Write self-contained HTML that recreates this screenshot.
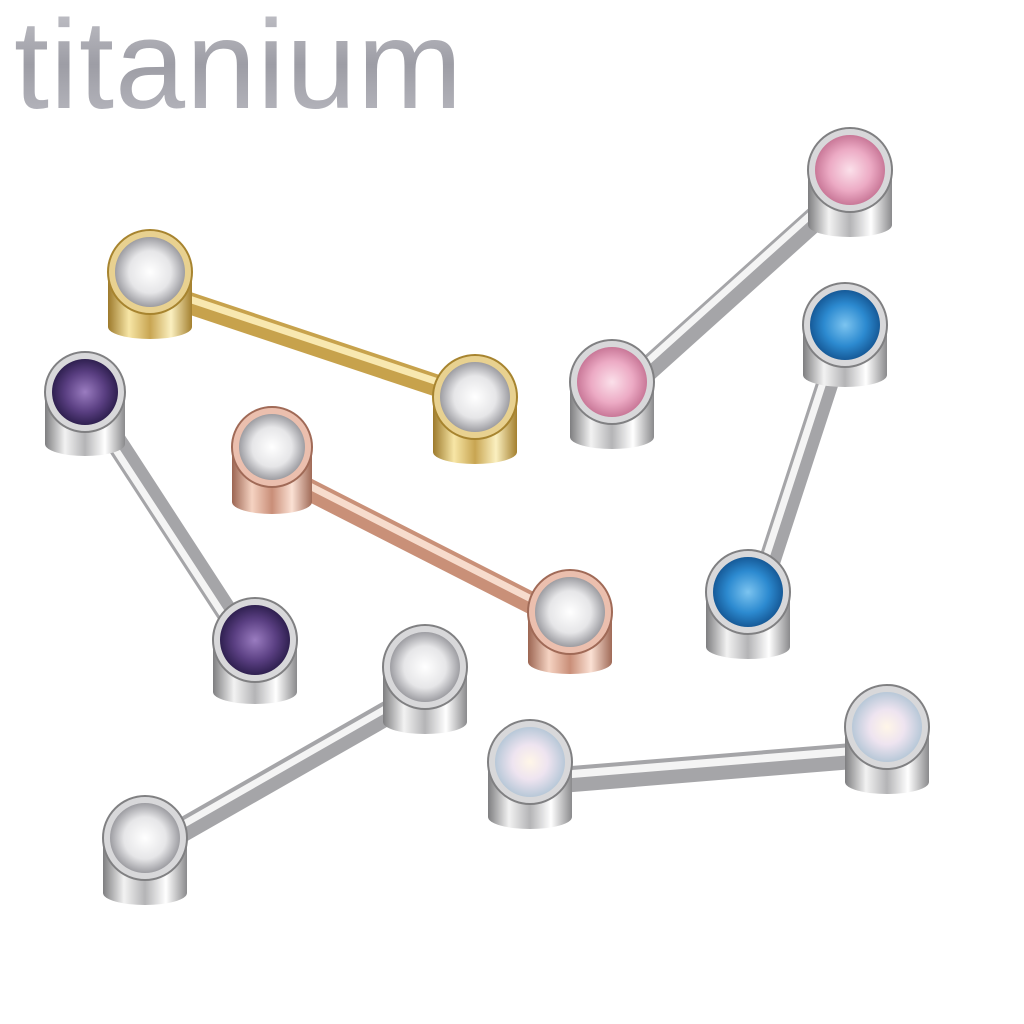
<!DOCTYPE html>
<html><head><meta charset="utf-8"><style>
html,body{margin:0;padding:0;background:#fff;}
svg{display:block;}
</style></head><body>
<svg width="1024" height="1024" viewBox="0 0 1024 1024" xmlns="http://www.w3.org/2000/svg">
<defs>
<linearGradient id="logo" x1="0" y1="0" x2="0" y2="1">
<stop offset="0" stop-color="#c9c9cf"/><stop offset="0.5" stop-color="#9d9da5"/><stop offset="1" stop-color="#bdbdc4"/></linearGradient>
<linearGradient id="sil" x1="0" y1="0" x2="1" y2="0">
<stop offset="0" stop-color="#7e7e80"/><stop offset="0.25" stop-color="#f2f2f2"/><stop offset="0.5" stop-color="#b4b4b6"/><stop offset="0.75" stop-color="#ffffff"/><stop offset="1" stop-color="#8a8a8c"/></linearGradient>
<linearGradient id="gold" x1="0" y1="0" x2="1" y2="0">
<stop offset="0" stop-color="#9d7a2c"/><stop offset="0.25" stop-color="#f7e6a6"/><stop offset="0.5" stop-color="#c8a552"/><stop offset="0.75" stop-color="#fbf0c0"/><stop offset="1" stop-color="#a4802f"/></linearGradient>
<linearGradient id="rose" x1="0" y1="0" x2="1" y2="0">
<stop offset="0" stop-color="#9c6552"/><stop offset="0.25" stop-color="#f5d3c2"/><stop offset="0.5" stop-color="#c98e78"/><stop offset="0.75" stop-color="#fbe1d4"/><stop offset="1" stop-color="#a06a57"/></linearGradient>
<radialGradient id="gClear"><stop offset="0" stop-color="#ffffff"/><stop offset="0.6" stop-color="#e6e6e8"/><stop offset="1" stop-color="#9d9da2"/></radialGradient>
<radialGradient id="gPurple"><stop offset="0" stop-color="#9a7cc0"/><stop offset="0.6" stop-color="#5a3f82"/><stop offset="1" stop-color="#2f2050"/></radialGradient>
<radialGradient id="gPink"><stop offset="0" stop-color="#fbe0ea"/><stop offset="0.6" stop-color="#ecaac4"/><stop offset="1" stop-color="#c97898"/></radialGradient>
<radialGradient id="gBlue"><stop offset="0" stop-color="#7cc4f0"/><stop offset="0.6" stop-color="#2c8ad0"/><stop offset="1" stop-color="#165a98"/></radialGradient>
<radialGradient id="gAB"><stop offset="0" stop-color="#fff6e8"/><stop offset="0.5" stop-color="#eee4f0"/><stop offset="1" stop-color="#b8c8d8"/></radialGradient>
</defs>

<text x="14" y="108" font-family="Liberation Sans, sans-serif" font-size="126" fill="url(#logo)" letter-spacing="1">titanium</text>

<!-- bars -->
<g stroke-linecap="round">
<line x1="180" y1="300" x2="450" y2="390" stroke="#c7a24c" stroke-width="22"/>
<line x1="180" y1="296" x2="450" y2="386" stroke="#f8e8b0" stroke-width="7"/>
<line x1="290" y1="480" x2="545" y2="610" stroke="#c99078" stroke-width="22"/>
<line x1="290" y1="476" x2="545" y2="606" stroke="#f7dccd" stroke-width="7"/>
<line x1="105" y1="425" x2="235" y2="625" stroke="#a5a5a8" stroke-width="22"/>
<line x1="101" y1="427" x2="231" y2="627" stroke="#f4f4f4" stroke-width="7"/>
<line x1="830" y1="205" x2="630" y2="385" stroke="#a5a5a8" stroke-width="24"/>
<line x1="826" y1="201" x2="626" y2="381" stroke="#f4f4f4" stroke-width="7"/>
<line x1="835" y1="360" x2="760" y2="590" stroke="#a5a5a8" stroke-width="22"/>
<line x1="831" y1="358" x2="756" y2="588" stroke="#f4f4f4" stroke-width="7"/>
<line x1="410" y1="700" x2="165" y2="840" stroke="#a5a5a8" stroke-width="24"/>
<line x1="408" y1="696" x2="163" y2="836" stroke="#f4f4f4" stroke-width="7"/>
<line x1="560" y1="780" x2="865" y2="755" stroke="#a5a5a8" stroke-width="26"/>
<line x1="560" y1="775" x2="865" y2="750" stroke="#f4f4f4" stroke-width="8"/>
</g>

<!-- bezel: body then rim then gem -->
<g>
<!-- gold -->
<g transform="translate(150,272)"><path d="M-42,0 L-42,55 A42,12 0 0 0 42,55 L42,0 Z" fill="url(#gold)"/><circle r="42" fill="#e8d190" stroke="#a7842f" stroke-width="2"/><circle r="35" fill="url(#gClear)"/></g>
<g transform="translate(475,397)"><path d="M-42,0 L-42,55 A42,12 0 0 0 42,55 L42,0 Z" fill="url(#gold)"/><circle r="42" fill="#e8d190" stroke="#a7842f" stroke-width="2"/><circle r="35" fill="url(#gClear)"/></g>
<!-- rose -->
<g transform="translate(272,447)"><path d="M-40,0 L-40,55 A40,12 0 0 0 40,55 L40,0 Z" fill="url(#rose)"/><circle r="40" fill="#ebbfae" stroke="#a06a57" stroke-width="2"/><circle r="33" fill="url(#gClear)"/></g>
<g transform="translate(570,612)"><path d="M-42,0 L-42,50 A42,12 0 0 0 42,50 L42,0 Z" fill="url(#rose)"/><circle r="42" fill="#ebbfae" stroke="#a06a57" stroke-width="2"/><circle r="35" fill="url(#gClear)"/></g>
<!-- purple -->
<g transform="translate(85,392)"><path d="M-40,0 L-40,52 A40,12 0 0 0 40,52 L40,0 Z" fill="url(#sil)"/><circle r="40" fill="#d8d8da" stroke="#808082" stroke-width="2"/><circle r="33" fill="url(#gPurple)"/></g>
<g transform="translate(255,640)"><path d="M-42,0 L-42,52 A42,12 0 0 0 42,52 L42,0 Z" fill="url(#sil)"/><circle r="42" fill="#d8d8da" stroke="#808082" stroke-width="2"/><circle r="35" fill="url(#gPurple)"/></g>
<!-- pink -->
<g transform="translate(850,170)"><path d="M-42,0 L-42,55 A42,12 0 0 0 42,55 L42,0 Z" fill="url(#sil)"/><circle r="42" fill="#d8d8da" stroke="#808082" stroke-width="2"/><circle r="35" fill="url(#gPink)"/></g>
<g transform="translate(612,382)"><path d="M-42,0 L-42,55 A42,12 0 0 0 42,55 L42,0 Z" fill="url(#sil)"/><circle r="42" fill="#d8d8da" stroke="#808082" stroke-width="2"/><circle r="35" fill="url(#gPink)"/></g>
<!-- blue -->
<g transform="translate(845,325)"><path d="M-42,0 L-42,50 A42,12 0 0 0 42,50 L42,0 Z" fill="url(#sil)"/><circle r="42" fill="#d8d8da" stroke="#808082" stroke-width="2"/><circle r="35" fill="url(#gBlue)"/></g>
<g transform="translate(748,592)"><path d="M-42,0 L-42,55 A42,12 0 0 0 42,55 L42,0 Z" fill="url(#sil)"/><circle r="42" fill="#d8d8da" stroke="#808082" stroke-width="2"/><circle r="35" fill="url(#gBlue)"/></g>
<!-- clear silver -->
<g transform="translate(425,667)"><path d="M-42,0 L-42,55 A42,12 0 0 0 42,55 L42,0 Z" fill="url(#sil)"/><circle r="42" fill="#d8d8da" stroke="#808082" stroke-width="2"/><circle r="35" fill="url(#gClear)"/></g>
<g transform="translate(145,838)"><path d="M-42,0 L-42,55 A42,12 0 0 0 42,55 L42,0 Z" fill="url(#sil)"/><circle r="42" fill="#d8d8da" stroke="#808082" stroke-width="2"/><circle r="35" fill="url(#gClear)"/></g>
<!-- AB -->
<g transform="translate(530,762)"><path d="M-42,0 L-42,55 A42,12 0 0 0 42,55 L42,0 Z" fill="url(#sil)"/><circle r="42" fill="#d8d8da" stroke="#808082" stroke-width="2"/><circle r="35" fill="url(#gAB)"/></g>
<g transform="translate(887,727)"><path d="M-42,0 L-42,55 A42,12 0 0 0 42,55 L42,0 Z" fill="url(#sil)"/><circle r="42" fill="#d8d8da" stroke="#808082" stroke-width="2"/><circle r="35" fill="url(#gAB)"/></g>
</g>
</svg>
</body></html>
